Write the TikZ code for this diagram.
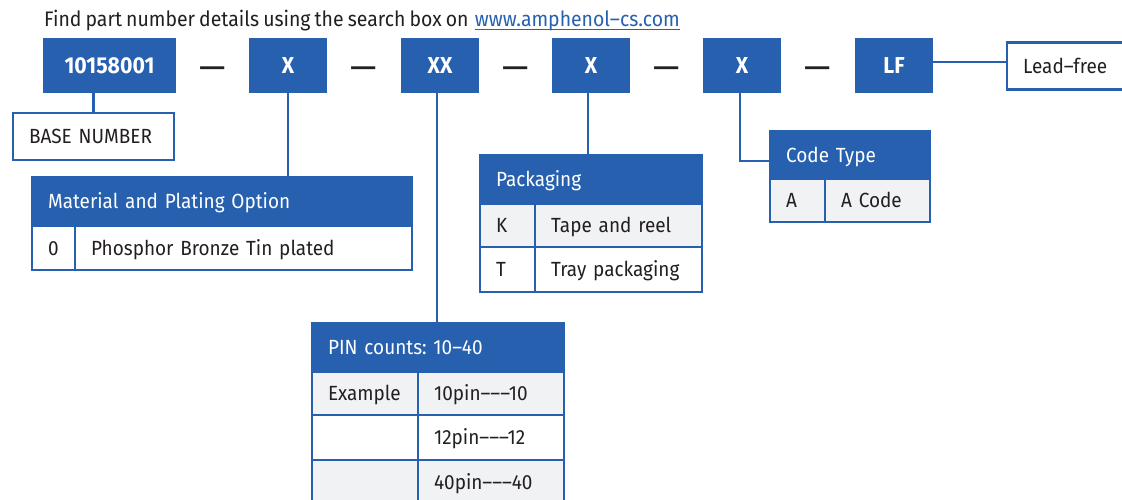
\documentclass[tikz,border=0pt]{standalone}
\usepackage{fontspec}
\setmainfont{Fira Sans}[FakeStretch=0.925,WordSpace=0.8]
\frenchspacing
\definecolor{blu}{HTML}{2660AE}
\definecolor{cellg}{HTML}{F1F2F4}
\definecolor{txt}{HTML}{231F20}
\newcommand\bodyfont{\fontsize{20.5}{24}\selectfont}
\newcommand\titlefont{\fontsize{21}{25}\selectfont}
\newcommand\topfont{\fontsize{23}{27}\selectfont\bfseries}
\newcommand\dashfont{\fontsize{36}{40}\selectfont}
\begin{document}
\begin{tikzpicture}[x=1pt,y=-1pt,
  topbox/.style={fill=blu, text=white, font=\topfont, inner sep=0pt, minimum height=55pt, text height=16pt, text depth=0pt},
  sepdash/.style={font=\dashfont, text=txt, inner sep=0pt, anchor=base},
  cell/.style={draw=blu, line width=2.2pt, anchor=north west, inner xsep=16pt, inner ysep=0pt, align=left, font=\bodyfont, text=txt, text height=14.2pt, text depth=0pt},
  head/.style={cell, fill=blu, text=white},
  conn/.style={draw=blu, line width=2.5pt},
  plain/.style={anchor=base west, font=\titlefont, text=txt, inner sep=0pt},
]
\useasboundingbox (0,0) rectangle (1122,500);
\clip (0,0) rectangle (1122,500);

% title
\node[plain] (title) at (44,27) {Find part number details using the search box on};
\node[plain, text=blu] (link) at ([xshift=6pt]title.base east) {www.amphenol–cs.com};
\draw[blu, line width=1.2pt] ([yshift=-2.5pt]link.base west) -- ([yshift=-2.5pt]link.base east);

% part number boxes
\node[topbox, minimum width=133pt] (pn) at (109.5,65.5) {10158001};
\node[topbox, minimum width=78pt] (x1) at (288,65.5) {X};
\node[topbox, minimum width=78pt] (xx) at (440,65.5) {XX};
\node[topbox, minimum width=78pt] (x3) at (591,65.5) {X};
\node[topbox, minimum width=78pt] (x4) at (742,65.5) {X};
\node[topbox, minimum width=78pt] (lfb) at (894,65.5) {LF};

\node[sepdash] (d1) at (213,80) {—};
\node[sepdash] (d2) at (364,80) {—};
\node[sepdash] (d3) at (515.5,80) {—};
\node[sepdash] (d4) at (666.5,80) {—};
\node[sepdash] (d5) at (818,80) {—};

% lead-free
\node[cell, minimum width=140pt, minimum height=47pt, text width=108pt] (lead) at (1006,41.5) {Lead–free};

% base number
\node[cell, minimum width=161pt, minimum height=47pt, text width=129pt] (base) at (12,112) {BASE NUMBER};

% material table
\node[head, minimum width=380pt, minimum height=49pt, text width=348pt] (math) at (31,176) {Material and Plating Option};
\node[cell, minimum width=43pt, minimum height=44pt, text width=11pt] (m0) at (31,225) {0};
\node[cell, minimum width=337pt, minimum height=44pt, text width=305pt] (m0t) at (74,225) {Phosphor Bronze Tin plated};

% packaging table
\node[head, minimum width=222pt, minimum height=49pt, text width=190pt] (packh) at (479,154) {Packaging};
\node[cell, fill=cellg, minimum width=55pt, minimum height=43pt, text width=23pt] (pk) at (479,203) {K};
\node[cell, fill=cellg, minimum width=167pt, minimum height=43pt, text width=135pt] (pkt) at (534,203) {Tape and reel};
\node[cell, minimum width=55pt, minimum height=45pt, text width=23pt] (pt) at (479,246) {T};
\node[cell, minimum width=167pt, minimum height=45pt, text width=135pt] (ptt) at (534,246) {Tray packaging};

% code type table
\node[head, minimum width=160pt, minimum height=48pt, text width=128pt] (codeh) at (769,130) {Code Type};
\node[cell, fill=cellg, minimum width=55pt, minimum height=43pt, text width=23pt] (ca) at (769,178) {A};
\node[cell, fill=cellg, minimum width=105pt, minimum height=43pt, text width=73pt] (cat) at (824,178) {A Code};

% pin table
\node[head, minimum width=252pt, minimum height=49pt, text width=220pt] (pinh) at (311,322) {PIN counts: 10–40};
\node[cell, fill=cellg, minimum width=106pt, minimum height=43pt, text width=74pt] (e1) at (311,371) {Example};
\node[cell, fill=cellg, minimum width=146pt, minimum height=43pt, text width=114pt] (p10) at (417,371) {10pin–––10};
\node[cell, minimum width=106pt, minimum height=45pt, text width=74pt] (e2) at (311,414) {};
\node[cell, minimum width=146pt, minimum height=45pt, text width=114pt] (p12) at (417,414) {12pin–––12};
\node[cell, fill=cellg, minimum width=106pt, minimum height=45pt, text width=74pt] (e3) at (311,459) {};
\node[cell, fill=cellg, minimum width=146pt, minimum height=45pt, text width=114pt] (p40) at (417,459) {40pin–––40};

% connectors
\draw[conn] (base.north |- pn.south) -- (base.north);
\draw[conn] (x1.south) -- (x1.south |- math.north);
\draw[conn] ([xshift=-3pt]xx.south) -- ([xshift=-3pt]xx.south |- pinh.north);
\draw[conn] ([xshift=-3pt]x3.south) -- ([xshift=-3pt]x3.south |- packh.north);
\draw[conn] ([xshift=-2pt]x4.south) |- ([yshift=-6pt]codeh.west);
\draw[conn] ([yshift=3.3pt]lfb.east) -- ([yshift=3.3pt]lfb.east -| lead.west);
\end{tikzpicture}
\end{document}
